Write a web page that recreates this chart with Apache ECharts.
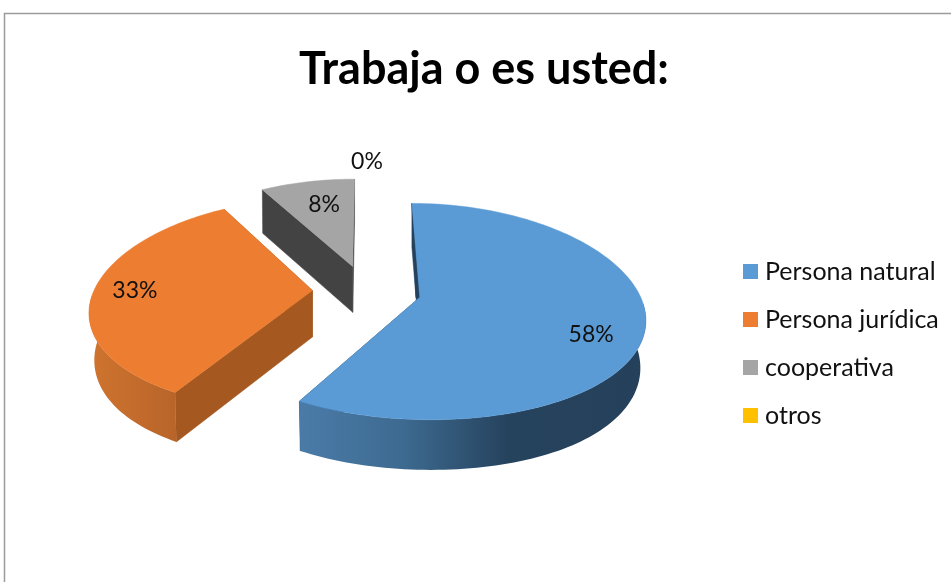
<!DOCTYPE html>
<html>
<head>
<meta charset="utf-8">
<style>html,body{margin:0;padding:0;background:#fff}#c{width:951px;height:582px}</style>
<script src="https://cdn.jsdelivr.net/npm/echarts@6/dist/echarts.min.js"></script>
</head>
<body>
<div id="c"></div>
<script>
const titleText = 'Trabaja o es usted:';
const categories = ['Persona natural', 'Persona jurídica', 'cooperativa', 'otros'];
const values = [7, 4, 1, 0];
const colors = ['#5B9BD5', '#ED7D31', '#A5A5A5', '#FFC000'];
const cutColors = ['#24425E', '#A5581F', '#434343', '#7F6000'];
const rimStops = [
  [[0, '#4A7BA8'], [0.3, '#3D6A90'], [0.6, '#26435E'], [1, '#25405A']],
  [[0, '#CF742F'], [1, '#B8642A']],
  [[0, '#6E6E6E'], [1, '#555555']],
  [[0, '#FFC000'], [1, '#BF9000']]
];
const explodeBy = [0.252, 0.245, 0.245, 0.245];

// projection of the tilted disc
const view = { cx: 366, cy: 290.5, rx: 218.5, ry: 104.5, perspX: 0.17, perspY: 0.13, depth: 46.5, depthGrow: 3, taper: 5 };
// label placement relative to each slice: radius fraction and pixel nudge
const labelPlace = [
  { r: 0.78, dx: -3, dy: 15 },
  { r: 0.79, dx: -5, dy: 0 },
  { r: 0.74, dx: 6, dy: 3 },
  { r: 1.26, dx: 1, dy: 3 }
];

const total = values.reduce((a, b) => a + b, 0);
const startAngles = [];
values.reduce((acc, v, i) => { startAngles[i] = acc; return acc + v / total * 2 * Math.PI; }, 0);

function project(U, V) {
  return [view.cx + view.rx * U / (1 - view.perspX * V), view.cy + view.ry * V / (1 - view.perspY * V)];
}
function renderSlice(idx) {
  return function (params, api) {
    const value = api.value(0);
    const a0 = startAngles[idx];
    const a1 = a0 + value / total * 2 * Math.PI;
    const b = (a0 + a1) / 2;
    const eu = explodeBy[idx] * Math.sin(b), ev = -explodeBy[idx] * Math.cos(b);
    const pt = (th, r) => project(eu + r * Math.sin(th), ev - r * Math.cos(th));
    const apex = pt(0, 0);
    const drop = p => {
      const t = (p[0] - apex[0]) / view.rx;
      const d = view.depth + view.depthGrow * (p[1] - view.cy) / view.ry;
      return [p[0] - view.taper * t * t * t, p[1] + d];
    };
    const children = [];
    if (value > 0) {
      const arc = [];
      const n = Math.max(8, Math.ceil((a1 - a0) * 40));
      for (let i = 0; i <= n; i++) arc.push(pt(a0 + (a1 - a0) * i / n, 1));
      const face = (pts, fill) => children.push({
        type: 'polygon', shape: { points: pts },
        style: { fill: fill, stroke: fill, lineWidth: 0.5 }
      });
      // radial cut faces
      face([apex, arc[0], drop(arc[0]), drop(apex)], cutColors[idx]);
      face([apex, arc[n], drop(arc[n]), drop(apex)], cutColors[idx]);
      if (idx === 0) face([arc[0], apex, [apex[0] - 4, apex[1]]], cutColors[idx]);
      // outer rim
      const fill = {
        type: 'linear', x: 0, y: 0, x2: 1, y2: 0,
        colorStops: rimStops[idx].map(s => ({ offset: s[0], color: s[1] }))
      };
      const frontArc = arc.filter((p, i) => {
        const th = a0 + (a1 - a0) * i / n;
        return Math.cos(th) <= -0.04;
      });
      if (frontArc.length > 1) {
        children.push({
          type: 'polygon',
          shape: { points: frontArc.concat(frontArc.map(drop).reverse()) },
          style: { fill: fill }
        });
      }
      // top
      children.push({
        type: 'polygon', shape: { points: [apex].concat(arc) },
        style: { fill: colors[idx], stroke: colors[idx], lineWidth: 0.5 }
      });
    }
    const lp = labelPlace[idx];
    const lpos = pt(b, lp.r);
    children.push({
      type: 'text', z2: 100,
      style: {
        x: lpos[0] + lp.dx, y: lpos[1] + lp.dy,
        text: Math.round(value / total * 100) + '%',
        align: 'center', verticalAlign: 'middle',
        font: '23px Lato', fill: '#111111'
      }
    });
    return { type: 'group', children: children };
  };
}

const chart = echarts.init(document.getElementById('c'), null, { renderer: 'canvas' });
chart.setOption({
  animation: false,
  backgroundColor: '#ffffff',
  title: {
    text: titleText, left: 479, top: 42, textAlign: 'center',
    textStyle: { fontFamily: 'Lato', fontWeight: 'bold', fontSize: 45, color: '#000000' }
  },
  legend: {
    data: categories, orient: 'vertical', left: 738, top: 254, icon: 'rect',
    itemWidth: 15, itemHeight: 15, itemGap: 23, align: 'left', selectedMode: false,
    textStyle: { fontFamily: 'Lato', fontSize: 25, color: '#111111', padding: [0, 0, 0, 2] }
  },
  graphic: [{
    type: 'polyline', silent: true,
    shape: { points: [[4.5, 582], [4.5, 13.5], [951, 13.5]] },
    style: { stroke: '#9C9C9C', lineWidth: 1.5, fill: null }
  }],
  series: categories.map((name, i) => ({
    type: 'custom', name: name, coordinateSystem: 'none', silent: true,
    z: 2 + (3 - i),
    itemStyle: { color: colors[i] },
    data: [[values[i]]],
    renderItem: renderSlice(i)
  }))
});
</script>
</body>
</html>
